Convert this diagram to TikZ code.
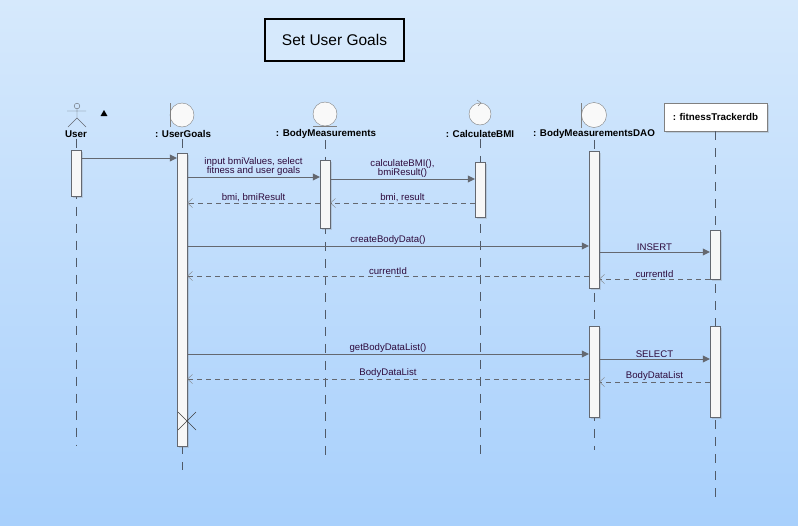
\documentclass[tikz,border=0pt]{standalone}
\usepackage{fontspec}
\setmainfont{Liberation Sans}
\usetikzlibrary{arrows.meta,shapes.geometric,shadows}

\definecolor{bgtop}{RGB}{214,233,252}
\definecolor{bgbottom}{RGB}{168,208,252}
\definecolor{linegray}{RGB}{100,104,112}
\definecolor{lifegray}{RGB}{80,90,104}
\definecolor{msgtext}{RGB}{45,10,60}

\begin{document}
\begin{tikzpicture}[x=1pt,y=-1pt,
    head_label/.style ={font=\fontsize{9.8}{11}\selectfont\bfseries, inner sep=1pt},
    title_box/.style ={rectangle, draw=black, line width=1.6pt, fill=bgtop,
      minimum width=139, minimum height=42, font=\fontsize{15.5}{17}\selectfont},
    db_box/.style ={rectangle, draw=gray, fill=white, minimum width=103,
      minimum height=28, font=\fontsize{9.8}{11}\selectfont\bfseries,
      drop shadow={opacity=0.25, shadow xshift=1.5pt, shadow yshift=-1.5pt}},
    act_box/.style ={rectangle, draw=linegray, fill=white!94!gray, minimum width=10,
      inner sep=0pt, drop shadow={opacity=0.25, shadow xshift=1.5pt, shadow yshift=-1.5pt}},
    icon/.style ={draw=gray, fill=white!95!gray},
    life_line/.style ={draw=lifegray, dash pattern=on 9pt off 8pt},
    msg_call/.style ={draw=linegray, -{Triangle[length=7pt,width=7pt]}},
    msg_return/.style ={draw=linegray, dash pattern=on 5pt off 4pt,
      -{Straight Barb[length=5pt,width=9pt,color=gray]}},
    msg_text/.style ={font=\fontsize{9.6}{9.5}\selectfont, text=msgtext, align=center,
      above, inner sep=1pt}]
    % background and frame
    \shade[top color=bgtop, bottom color=bgbottom] (0,0) rectangle (798,525);
    \useasboundingbox (0,0) rectangle (798,525);
    \node [title_box] (title) at (334.5,40) {Set User Goals};
    % lifeline heads
    \draw[linegray] (77,106) circle (2.8);
    \draw[linegray] (77,109) -- (77,118) (67,111) -- (86,111)
      (68,127) -- (77,118) -- (86,127);
    \node [head_label] (userH) at (76,134) {User};
    \node [regular polygon, regular polygon sides=3, fill=black, inner sep=0pt,
      minimum size=8] (mark) at (104,114) {};
    \draw[icon] (182,115) circle (12);
    \draw[gray] (170,103) -- (170,127);
    \node [head_label] (goalsH) at (183,134) {: UserGoals};
    \draw[icon] (325,114) circle (12);
    \draw[gray] (313,126) -- (337,126);
    \node [head_label] (measH) at (326,134) {: BodyMeasurements};
    \draw[icon] (480,114) circle (11);
    \draw[gray] (477,100) -- (481,103) -- (478,106);
    \node [head_label] (bmiH) at (480,134) {: CalculateBMI};
    \draw[icon] (594,115) circle (12.5);
    \draw[gray] (581,103) -- (581,128);
    \node [head_label] (daoH) at (594,134) {: BodyMeasurementsDAO};
    \node [db_box] (dbH) at (715.5,117) {: fitnessTrackerdb};
    % lifelines
    \coordinate (userE) at (76,445);
    \coordinate (goalsE) at (182,470);
    \coordinate (measE) at (325,455);
    \coordinate (bmiE) at (480,455);
    \coordinate (daoE) at (594,450);
    \coordinate (dbE) at (715,498);
    \path[life_line] (userH.south) -- (userE);
    \path[life_line] (goalsH.south -| goalsE) -- (goalsE);
    \path[life_line] (measH.south -| measE) -- (measE);
    \path[life_line] (bmiH.south -| bmiE) -- (bmiE);
    \path[life_line] (daoH.south -| daoE) -- (daoE);
    \path[life_line] (dbH.south -| dbE) -- (dbE);
    % activations
    \node [act_box, minimum height=46] (userA) at (76,173) {};
    \node [act_box, minimum height=293] (goalsA) at (182,299.5) {};
    \node [act_box, minimum height=68] (measA) at (325,194) {};
    \node [act_box, minimum height=55] (bmiA) at (480,189.5) {};
    \node [act_box, minimum height=137] (daoA) at (594,219.5) {};
    \node [act_box, minimum height=91] (daoB) at (594,371.5) {};
    \node [act_box, minimum height=49] (dbA) at (715,254.5) {};
    \node [act_box, minimum height=91] (dbB) at (715,371.5) {};
    \draw[black!75] (178,412) -- (196,430) (178,430) -- (196,412);
    % message rows
    \coordinate (r1) at (0,158);
    \coordinate (r2) at (0,177);
    \coordinate (r3) at (0,179);
    \coordinate (r4) at (0,203);
    \coordinate (r6) at (0,246);
    \coordinate (r7) at (0,252);
    \coordinate (r8) at (0,279);
    \coordinate (r9) at (0,276);
    \coordinate (r10) at (0,354);
    \coordinate (r11) at (0,359);
    \coordinate (r12) at (0,382);
    \coordinate (r13) at (0,379);
    % connecting nodes with paths
    \draw[msg_call] (userA.east |- r1) -- (goalsA.west |- r1);
    \draw[msg_call] (goalsA.east |- r2) -- node[msg_text] {input bmiValues, select\\fitness and user goals} (measA.west |- r2);
    \draw[msg_call] (measA.east |- r3) -- node[msg_text] {calculateBMI(),\\bmiResult()} (bmiA.west |- r3);
    \draw[msg_return] (bmiA.west |- r4) -- node[msg_text] {bmi, result} (measA.east |- r4);
    \draw[msg_return] (measA.west |- r4) -- node[msg_text] {bmi, bmiResult} (goalsA.east |- r4);
    \draw[msg_call] (goalsA.east |- r6) -- node[msg_text] {createBodyData()} (daoA.west |- r6);
    \draw[msg_call] (daoA.east |- r7) -- node[msg_text] {INSERT} (dbA.west |- r7);
    \draw[msg_return] (dbA.west |- r8) -- node[msg_text] {currentId} (daoA.east |- r8);
    \draw[msg_return] (daoA.west |- r9) -- node[msg_text] {currentId} (goalsA.east |- r9);
    \draw[msg_call] (goalsA.east |- r10) -- node[msg_text] {getBodyDataList()} (daoB.west |- r10);
    \draw[msg_call] (daoB.east |- r11) -- node[msg_text] {SELECT} (dbB.west |- r11);
    \draw[msg_return] (dbB.west |- r12) -- node[msg_text] {BodyDataList} (daoB.east |- r12);
    \draw[msg_return] (daoB.west |- r13) -- node[msg_text] {BodyDataList} (goalsA.east |- r13);
\end{tikzpicture}
\end{document}
